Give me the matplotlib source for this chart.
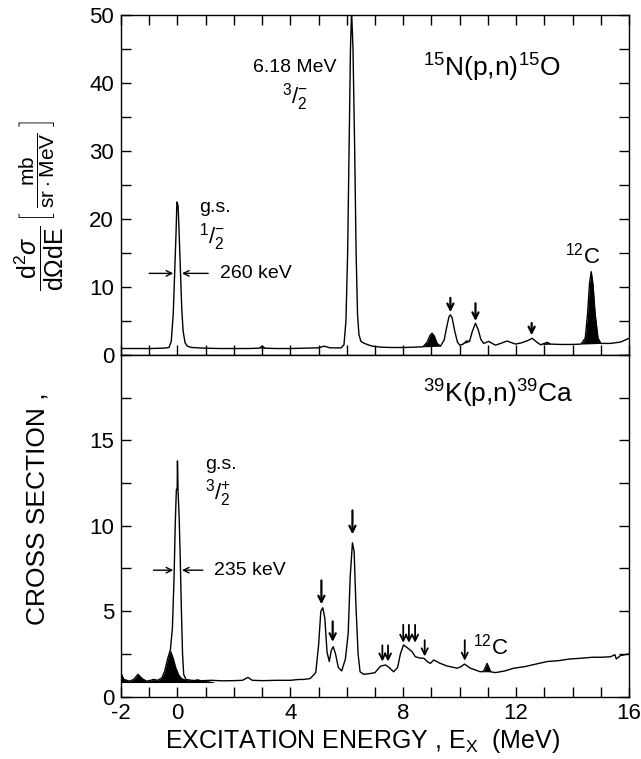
import numpy as np
import matplotlib.pyplot as plt

plt.rcParams['font.family'] = ['Liberation Sans', 'DejaVu Sans']
plt.rcParams['mathtext.fontset'] = 'custom'
plt.rcParams['mathtext.rm'] = 'Liberation Sans'
plt.rcParams['mathtext.it'] = 'Liberation Sans:italic'
plt.rcParams['mathtext.bf'] = 'Liberation Sans:bold'
plt.rcParams['axes.unicode_minus'] = False

# 15N(p,n)15O spectrum
n15_ex = [-2.0, -1.5, -1.0, -0.5, -0.3, -0.22, -0.15, -0.1, -0.05, -0.02, 0.02, 0.05, 0.1, 0.15,
          0.2, 0.27, 0.35, 0.5, 1.0, 1.5, 2.0, 2.5, 2.9, 3.0, 3.1, 3.5, 4.0, 4.5, 5.0, 5.2, 5.4,
          5.8, 5.9, 5.97, 6.03, 6.08, 6.13, 6.17, 6.22, 6.28, 6.33, 6.38, 6.43, 6.5, 6.6, 6.75,
          6.9, 7.2, 7.6, 8.0, 8.4, 8.7, 8.85, 8.95, 9.02, 9.1, 9.2, 9.32, 9.45, 9.55, 9.62, 9.67,
          9.73, 9.82, 9.92, 10.0, 10.12, 10.24, 10.35, 10.45, 10.56, 10.65, 10.75, 10.85, 11.03,
          11.15, 11.27, 11.45, 11.68, 11.85, 11.98, 12.2, 12.4, 12.57, 12.7, 12.86, 13.0, 13.1,
          13.22, 13.57, 14.0, 14.3, 14.45, 14.53, 14.6, 14.66, 14.72, 14.8, 14.9, 15.0, 15.34,
          15.7, 16.0]
n15_xs = [0.95, 0.95, 0.95, 1.0, 1.1, 2.0, 6.0, 12.0, 18.0, 22.5, 22.0, 19.0, 13.0, 7.0,
          3.5, 1.8, 1.3, 1.1, 1.0, 0.95, 0.95, 0.95, 1.0, 1.3, 1.0, 0.95, 0.95, 1.0, 1.05, 1.3, 1.05,
          1.05, 1.5, 5.0, 15.0, 30.0, 45.0, 50.5, 45.0, 30.0, 15.0, 6.0, 3.0, 2.0, 1.75, 1.5,
          1.3, 1.15, 1.1, 1.1, 1.15, 1.2, 1.9, 2.9, 3.2, 2.8, 1.7, 1.3, 2.2, 4.3, 5.6, 5.9,
          5.5, 3.6, 1.9, 1.45, 1.6, 2.06, 2.0, 3.5, 4.66, 3.8, 2.3, 1.7, 2.0,
          1.7, 1.45, 1.7, 2.05, 1.8, 1.6, 1.8, 2.1, 2.45, 2.0, 1.5, 1.7, 1.86,
          1.6, 1.55, 1.55, 1.6, 2.5, 6.0, 10.5, 12.25, 10.5, 6.0, 2.5, 1.7, 1.7,
          1.9, 2.45]
n15_filled = [(2.9, 3.1), (8.7, 9.32), (10.0, 10.35), (12.86, 13.22), (14.3, 15.0)]
n15_arrow_x = [9.67, 10.56, 12.55]
n15_arrow_top = [8.4, 7.6, 4.7]
n15_arrow_tip = [6.3, 5.0, 2.9]

# 39K(p,n)39Ca spectrum
k39_ex = [-2.0, -1.9, -1.7, -1.55, -1.4, -1.25, -1.1, -0.95, -0.85, -0.7, -0.55, -0.45, -0.35,
          -0.25, -0.18, -0.12, -0.08, -0.04, -0.01, 0.0, 0.02, 0.06, 0.1, 0.14, 0.18, 0.22, 0.3,
          0.5, 0.8, 1.2, 1.6, 2.0, 2.3, 2.5, 2.65, 3.0, 3.5, 4.0, 4.3, 4.46, 4.7, 4.9, 5.0, 5.08,
          5.15, 5.22, 5.3, 5.38, 5.45, 5.52, 5.6, 5.7, 5.82, 5.95, 6.05, 6.12, 6.2, 6.26, 6.32,
          6.4, 6.47, 6.6, 6.88, 7.0, 7.1, 7.2, 7.37, 7.5, 7.66, 7.8, 7.9, 8.01, 8.15, 8.31, 8.43,
          8.6, 8.73, 8.85, 8.96, 9.08, 9.3, 9.55, 9.91, 10.05, 10.17, 10.38, 10.73, 10.85, 10.97,
          11.1, 11.27, 11.6, 11.92, 12.3, 12.7, 13.1, 13.5, 13.9, 14.28, 14.7, 15.0, 15.34, 15.5,
          15.55, 15.7, 16.0]
k39_xs = [1.36, 1.0, 0.9, 1.0, 1.3, 1.05, 0.9, 0.95, 1.0, 0.95, 1.1, 1.5, 2.2,
          2.75, 4.0, 7.0, 10.0, 12.1, 12.2, 13.8, 12.1, 10.5, 8.0, 5.0, 2.5, 1.3, 1.0,
          0.95, 0.92, 0.95, 0.92, 0.93, 0.95, 1.12, 0.95, 0.93, 0.95, 0.95, 1.0, 1.0, 1.05, 1.4,
          3.0, 5.0, 5.2, 4.6, 2.6, 2.05, 2.7, 2.92, 2.5, 1.7, 1.5, 2.2, 3.7, 7.0, 9.0, 8.5, 5.5,
          2.5, 1.45, 1.3, 1.36, 1.4, 1.6, 1.78, 1.85, 1.7, 1.45, 1.7, 2.5, 3.02, 2.85, 2.63, 2.33,
          2.25, 2.24, 2.05, 1.94, 2.14, 1.95, 1.79, 1.66, 1.75, 1.9, 1.66, 1.45, 1.48, 1.94,
          1.45, 1.4, 1.5, 1.66, 1.75, 1.9, 2.05, 2.1, 2.2, 2.24, 2.3, 2.3, 2.33, 2.45,
          2.2, 2.4, 2.5]
k39_filled = [(10.73, 11.1)]
# contaminant under the ground state (drawn black)
k39_cont_ex = [-2.0, -1.9, -1.7, -1.55, -1.4, -1.25, -1.1, -0.95, -0.85, -0.7, -0.55, -0.45,
               -0.35, -0.25, -0.15, -0.05, 0.05, 0.15, 0.3, 0.5, 0.7, 0.9, 1.1, 1.3]
k39_cont_xs = [1.36, 1.0, 0.9, 1.0, 1.3, 1.05, 0.9, 0.95, 1.0, 0.95, 1.1, 1.5,
               2.2, 2.75, 2.3, 1.7, 1.3, 1.1, 1.0, 0.95, 1.05, 0.95, 0.92, 0.85]
k39_cont_base = 0.82
k39_arrow_x = [5.1, 5.5, 6.2, 7.26, 7.46, 8.0, 8.2, 8.42, 8.76, 10.18]
k39_arrow_top = [6.8, 4.4, 10.9, 3.0, 3.0, 4.2, 4.2, 4.2, 3.3, 3.3]
k39_arrow_tip = [5.4, 3.2, 9.5, 2.05, 2.05, 3.15, 3.15, 3.15, 2.35, 2.1]

fig = plt.figure(figsize=(6.41, 7.59), dpi=100)
ax1 = fig.add_axes([0.1888, 0.5323, 0.7925, 0.448])
ax2 = fig.add_axes([0.1888, 0.0823, 0.7925, 0.4499])


def fill_peaks(ax, x, y, ranges):
    x = np.asarray(x)
    y = np.asarray(y)
    for a, b in ranges:
        m = (x >= a) & (x <= b)
        xs, ys = x[m], y[m]
        base = np.interp(xs, [xs[0], xs[-1]], [ys[0], ys[-1]])
        ax.fill_between(xs, base, ys, color='black', lw=0)


def arrows(ax, xs, tops, tips, lw):
    for x, t, b in zip(xs, tops, tips):
        ax.annotate('', xy=(x, b), xytext=(x, t),
                    arrowprops=dict(arrowstyle='->', lw=lw, color='black',
                                    shrinkA=0, shrinkB=0, mutation_scale=11))


def hwidth(ax, y, xl, xr, label):
    ax.annotate('', xy=(-0.15, y), xytext=(xl, y),
                arrowprops=dict(arrowstyle='->', lw=1.0, color='black', shrinkA=0, shrinkB=0))
    ax.annotate('', xy=(0.16, y), xytext=(xr, y),
                arrowprops=dict(arrowstyle='->', lw=1.0, color='black', shrinkA=0, shrinkB=0))
    ax.text(xr + 0.4, y, label, fontsize=14, va='center', ha='left')


# top panel
fill_peaks(ax1, n15_ex, n15_xs, n15_filled)
ax1.plot(n15_ex, n15_xs, color='black', lw=1.0)
arrows(ax1, n15_arrow_x, n15_arrow_top, n15_arrow_tip, 1.6)
hwidth(ax1, 12.0, -1.0, 1.09, '260 keV')
ax1.text(2.68, 42.2, '6.18 MeV', fontsize=14, va='center')
ax1.text(4.15, 38.0, r'$^{3}/_{2}^{-}$', fontsize=16, va='center', ha='center')
ax1.text(0.75, 21.7, 'g.s.', fontsize=14, va='center')
ax1.text(0.75, 17.3, r'$^{1}/_{2}^{-}$', fontsize=16, va='center')
ax1.text(8.7, 42.2, r'$^{15}$N(p,n)$^{15}$O', fontsize=19, va='center')
ax1.text(14.35, 14.6, r'$^{12}$C', fontsize=16, va='center', ha='center')
ax1.set_xlim(-2, 16)
ax1.set_ylim(0, 50)
ax1.set_yticks([0, 10, 20, 30, 40, 50])
ax1.set_yticks(range(5, 50, 10), minor=True)
ax1.set_xticks(range(-2, 17))
ax1.tick_params(axis='x', which='both', labelbottom=False, top=True)

# bottom panel
ax2.fill_between(k39_cont_ex, k39_cont_base, k39_cont_xs, color='black', lw=0)
fill_peaks(ax2, k39_ex, k39_xs, k39_filled)
ax2.plot(k39_ex, k39_xs, color='black', lw=1.0)
arrows(ax2, k39_arrow_x[:3], k39_arrow_top[:3], k39_arrow_tip[:3], 1.6)
arrows(ax2, k39_arrow_x[3:], k39_arrow_top[3:], k39_arrow_tip[3:], 1.3)
hwidth(ax2, 7.4, -0.85, 0.9, '235 keV')
ax2.text(0.98, 13.6, 'g.s.', fontsize=14, va='center')
ax2.text(0.98, 11.9, r'$^{3}/_{2}^{+}$', fontsize=16, va='center')
ax2.text(8.7, 17.7, r'$^{39}$K(p,n)$^{39}$Ca', fontsize=19, va='center')
ax2.text(11.1, 2.9, r'$^{12}$C', fontsize=16, va='center', ha='center')
ax2.set_xlim(-2, 16)
ax2.set_ylim(0, 20)
ax2.set_yticks([0, 5, 10, 15])
ax2.set_yticks([2.5, 7.5, 12.5, 17.5, 20], minor=True)
ax2.set_xticks([-2, 0, 4, 8, 12, 16])
ax2.set_xticks(range(-2, 17), minor=True)

for ax in (ax1, ax2):
    ax.tick_params(which='both', direction='in', length=7, width=1, right=True,
                   labelsize=16, pad=5)
    for s in ax.spines.values():
        s.set_linewidth(1.0)
ax2.tick_params(which='both', top=False)
ax2.tick_params(axis='x', pad=5)

# y label in three pieces, as in the original
fig.text(0.059, 0.330, 'CROSS SECTION ,', rotation=90, fontsize=19,
         ha='center', va='center')
fig.text(0.062, 0.660,
         r'$\dfrac{\mathrm{d}^{2}\sigma}{\mathrm{d}\Omega\mathrm{dE}}$',
         rotation=90, fontsize=18, ha='center', va='center')
fig.text(0.058, 0.775,
         r'$\left[\ \dfrac{\mathrm{mb}}{\mathrm{sr}\cdot\mathrm{MeV}}\ \right]$',
         rotation=90, fontsize=15, ha='center', va='center')
fig.text(0.565, 0.024, r'EXCITATION ENERGY , E$_{\mathrm{X}}$  (MeV)',
         fontsize=18, ha='center', va='center')

fig.savefig('out.png', dpi=100)
